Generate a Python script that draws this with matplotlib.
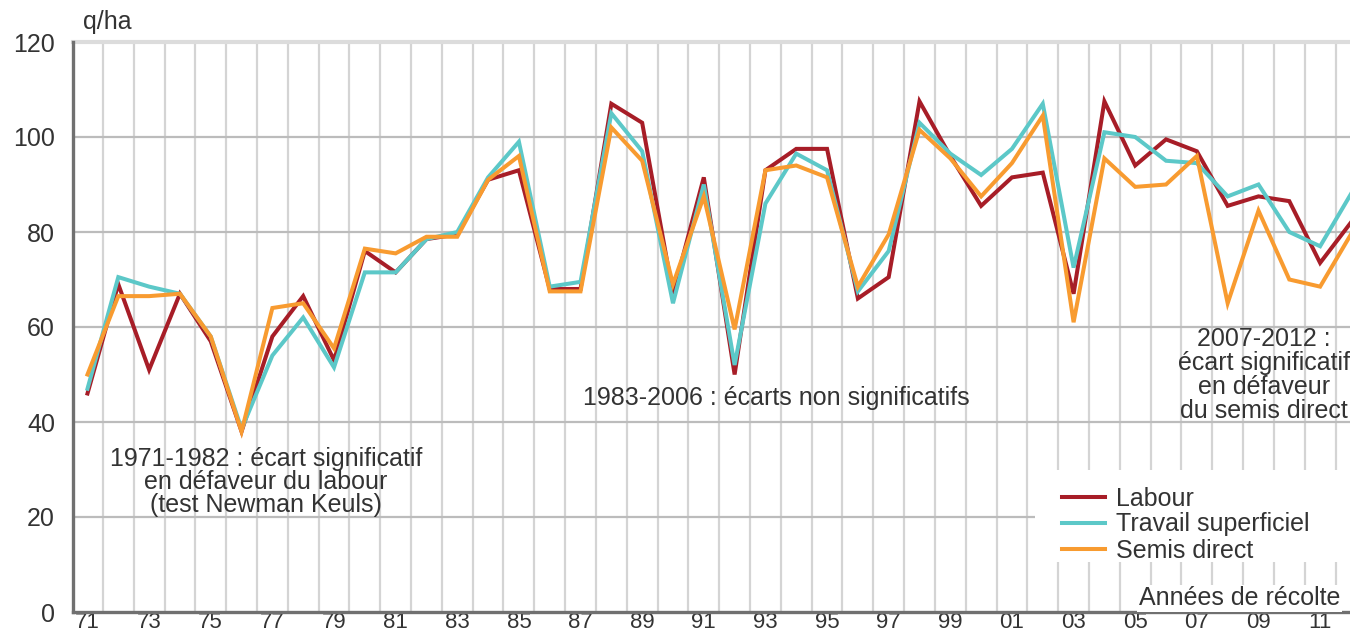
import numpy as np
import matplotlib
matplotlib.use('Agg')
import matplotlib.pyplot as plt
from matplotlib.patches import Rectangle

plt.rcParams['font.family'] = ['Liberation Sans', 'DejaVu Sans']

# rendements (q/ha) par annee de recolte
annees = list(range(1971, 2013))
labour = [46, 69, 51, 67, 57, 38, 58, 66.5, 53, 76, 71.5, 78.5, 79.5, 91, 93,
          68, 68, 107, 103, 67, 91.5, 50, 93, 97.5, 97.5, 66, 70.5, 107.5, 96,
          85.5, 91.5, 92.5, 67, 107.5, 94, 99.5, 97, 85.5, 87.5, 86.5, 73.5, 82]
travail = [47, 70.5, 68.5, 67, 58, 38.5, 54, 62, 51.5, 71.5, 71.5, 78.5, 80,
           91.5, 99, 68.5, 69.5, 105, 97, 65, 90, 52, 86, 96.5, 93, 67.5, 76,
           103, 96.5, 92, 97.5, 107, 72.5, 101, 100, 95, 94.5, 87.5, 90, 80, 77, 88]
semis = [50, 66.5, 66.5, 67, 58, 38, 64, 65, 55.5, 76.5, 75.5, 79, 79, 91, 96,
         67.5, 67.5, 102, 95, 69, 87.5, 59.5, 93, 94, 91.5, 68.5, 79.5, 101.5,
         95.5, 87.5, 94.5, 104.5, 61, 95.5, 89.5, 90, 96, 65, 84.5, 70, 68.5, 79.5]
noms = ['Labour', 'Travail superficiel', 'Semis direct']
couleurs = ['#a71d27', '#5cc8c8', '#f89b30']
tick_annees = annees[::2]
tick_labels = ['%02d' % (a % 100) for a in tick_annees]

txt = '#333333'
fs = 18
fig = plt.figure(figsize=(13.5, 6.38), dpi=100)
ax = fig.add_axes([73 / 1350, 1 - 612 / 638, 1 - 73 / 1350, (612 - 42) / 638])
ax.set_xlim(1970.53, 2011.97)
ax.set_ylim(0, 120)

# grille
for a in annees[:-1]:
    ax.axvline(a + 0.5, color='#d4d4d4', lw=1.6, zorder=1)
for v in [20, 40, 60, 80, 100]:
    ax.axhline(v, color='#bcbcbc', lw=1.6, zorder=1)
ax.axhline(120, color='#dcdcdc', lw=3, zorder=1, clip_on=False)

# zone blanche de la legende
ax.add_patch(Rectangle((2001.76, 10.5), 12, 19.5, facecolor='white',
                       edgecolor='none', zorder=2))

for serie, nom, c in zip([labour, travail, semis], noms, couleurs):
    ax.plot(annees, serie, color=c, lw=2.9, label=nom, zorder=3,
            solid_joinstyle='miter')

for s in ['top', 'right']:
    ax.spines[s].set_visible(False)
for s in ['left', 'bottom']:
    ax.spines[s].set_color('#707070')
    ax.spines[s].set_linewidth(2.4)
    ax.spines[s].set_zorder(4)

ax.set_xticks(tick_annees)
ax.set_xticklabels(tick_labels)
ax.set_yticks(range(0, 121, 20))
ax.tick_params(length=0, labelsize=fs, colors=txt)
ax.tick_params(axis='y', pad=13)
ax.tick_params(axis='x', pad=0, labelsize=16)

leg = ax.legend(loc='upper left', bbox_to_anchor=(1049 / 1350, 1 - 474 / 638),
                bbox_transform=fig.transFigure, frameon=False, fontsize=fs,
                handlelength=1.75, handletextpad=0.45, labelspacing=0.08,
                borderpad=0)
for t in leg.get_texts():
    t.set_color(txt)

fig.text(83 / 1350, 1 - 22 / 638, 'q/ha', fontsize=fs, color=txt, va='center')
fig.text(1340 / 1350, 1 - 598 / 638, 'Années de récolte', fontsize=fs,
         color=txt, ha='right', va='center',
         bbox=dict(facecolor='white', edgecolor='none', pad=1))

fig.text(266 / 1350, 1 - 482 / 638,
         '1971-1982 : écart significatif\nen défaveur du labour\n(test Newman Keuls)',
         fontsize=fs, color=txt, ha='center', va='center', linespacing=0.96)
fig.text(776 / 1350, 1 - 398 / 638, '1983-2006 : écarts non significatifs',
         fontsize=fs, color=txt, ha='center', va='center')
fig.text(1264 / 1350, 1 - 375 / 638,
         '2007-2012 :\nécart significatif\nen défaveur\ndu semis direct',
         fontsize=fs, color=txt, ha='center', va='center', linespacing=1.0)

fig.savefig('out.png', dpi=100, facecolor='white')
